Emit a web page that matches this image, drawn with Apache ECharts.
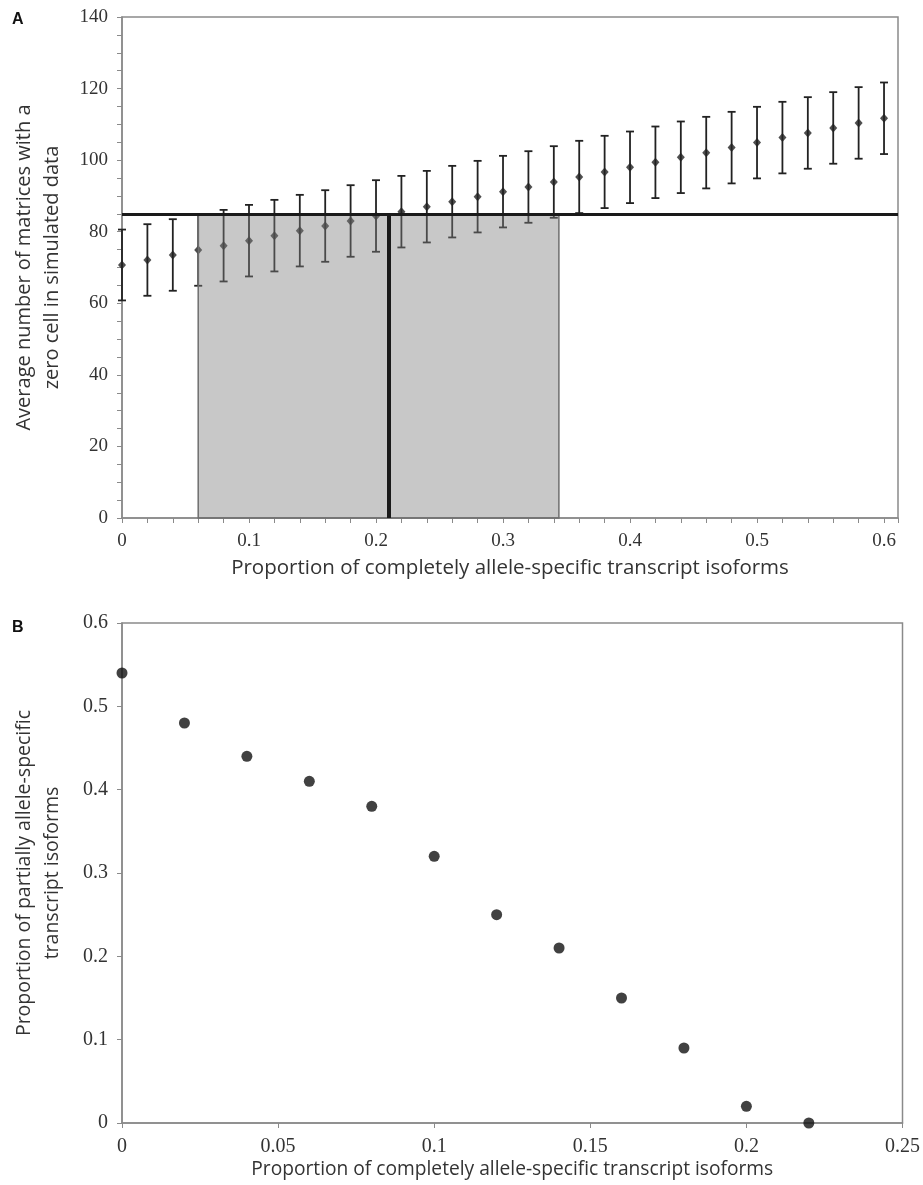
<!DOCTYPE html>
<html>
<head>
<meta charset="utf-8">
<script src="https://cdn.jsdelivr.net/npm/echarts@6/dist/echarts.min.js"></script>
<style>
  html, body { margin: 0; padding: 0; background: #fff; }
  #main { width: 923px; height: 1185px; }
</style>
</head>
<body>
<div id="main"></div>
<script>
// panel A: simulated zero-cell counts
var xA = [0, 0.02, 0.04, 0.06, 0.08, 0.1, 0.12, 0.14, 0.16, 0.18, 0.2, 0.22, 0.24, 0.26, 0.28, 0.3,
  0.32, 0.34, 0.36, 0.38, 0.4, 0.42, 0.44, 0.46, 0.48, 0.5, 0.52, 0.54, 0.56, 0.58, 0.6]
var meanA = [70.7, 72.1, 73.5, 74.9, 76.1, 77.5, 78.9, 80.3, 81.6, 83.0, 84.4, 85.6, 87.0, 88.4, 89.8, 91.2,
  92.5, 93.9, 95.3, 96.7, 98.0, 99.4, 100.8, 102.1, 103.5, 104.9, 106.3, 107.6, 109.0, 110.4, 111.7]
var errA = [9.9, 10.0, 10.0, 10.0, 10.0, 10.0, 10.0, 10.0, 10.0, 10.0, 10.0, 10.0, 10.0, 10.0, 10.0, 10.0,
  10.0, 10.0, 10.1, 10.1, 10.0, 10.0, 10.0, 10.0, 10.0, 10.0, 10.0, 10.0, 10.0, 10.0, 10.0]
var observedY = 85
var estimateX = 0.21
var intervalX = [0.06, 0.344]

// panel B
var xB = [0, 0.02, 0.04, 0.06, 0.08, 0.1, 0.12, 0.14, 0.16, 0.18, 0.2, 0.22]
var yB = [0.54, 0.48, 0.44, 0.41, 0.38, 0.32, 0.25, 0.21, 0.15, 0.09, 0.02, 0]

var xTitle = 'Proportion of completely allele-specific transcript isoforms'

var serif = 'Liberation Serif'
var sans = 'Open Sans'
var ink = '#222'
var axisGray = '#8a8a8a'

var myChart = echarts.init(document.getElementById('main'))

function isMultiple(v, step) {
  var r = v / step
  return Math.abs(r - Math.round(r)) < 1e-6
}

var axisCommon = {
  axisLine: { show: true, lineStyle: { color: axisGray, width: 1.5 } },
  axisTick: { show: true, inside: false, length: 5, lineStyle: { color: axisGray, width: 1 } },
  splitLine: { show: false },
  axisLabel: { fontFamily: serif, fontSize: 19, color: '#333', margin: 14 },
  nameTextStyle: { fontFamily: sans, fontSize: 20.5, color: '#333' }
}

var option = {
  animation: false,
  backgroundColor: '#fff',
  grid: [
    { left: 122, top: 17, right: 25, height: 501, show: true, borderColor: axisGray, borderWidth: 1.5 },
    { left: 122, top: 623, right: 19, height: 500, show: true, borderColor: axisGray, borderWidth: 1.5 }
  ],
  xAxis: [
    echarts.util.merge({
      gridIndex: 0, type: 'value', min: 0, max: 0.611, interval: 0.02,
      name: xTitle, nameLocation: 'middle', nameGap: 40,
      axisLabel: {
        formatter: function (v) { return isMultiple(v, 0.1) && v <= 0.6001 ? String(+v.toFixed(1)) : '' }
      }
    }, axisCommon),
    echarts.util.merge({
      gridIndex: 1, type: 'value', min: 0, max: 0.25, interval: 0.05,
      name: xTitle, nameLocation: 'middle', nameGap: 37,
      axisLabel: { fontSize: 20 },
      nameTextStyle: { fontSize: 19.2 }
    }, axisCommon)
  ],
  yAxis: [
    echarts.util.merge({
      gridIndex: 0, type: 'value', min: 0, max: 140, interval: 5,
      name: 'Average number of matrices with a\nzero cell in simulated data',
      nameLocation: 'middle', nameGap: 56,
      nameTextStyle: { fontSize: 20, lineHeight: 28 },
      axisLabel: {
        formatter: function (v) { return isMultiple(v, 20) ? String(v) : '' }
      }
    }, axisCommon),
    echarts.util.merge({
      gridIndex: 1, type: 'value', min: 0, max: 0.6, interval: 0.1,
      name: 'Proportion of partially allele-specific\ntranscript isoforms',
      nameLocation: 'middle', nameGap: 56,
      nameTextStyle: { fontSize: 19.5, lineHeight: 28 },
      axisLabel: { fontSize: 20 }
    }, axisCommon)
  ],
  graphic: [
    { type: 'text', left: 12, top: 12, style: { text: 'A', font: 'bold 16px "Liberation Sans"', fill: '#111' } },
    { type: 'text', left: 12, top: 620, style: { text: 'B', font: 'bold 16px "Liberation Sans"', fill: '#111' } }
  ],
  series: [
    {
      // error bars
      type: 'custom',
      xAxisIndex: 0, yAxisIndex: 0,
      z: 2,
      silent: true,
      data: xA.map(function (x, i) { return [x, meanA[i] - errA[i], meanA[i] + errA[i]] }),
      renderItem: function (params, api) {
        var top = api.coord([api.value(0), api.value(2)])
        var bot = api.coord([api.value(0), api.value(1)])
        var w = 4
        var st = { stroke: ink, lineWidth: 1.8 }
        return {
          type: 'group',
          children: [
            { type: 'line', shape: { x1: top[0], y1: top[1], x2: bot[0], y2: bot[1] }, style: st },
            { type: 'line', shape: { x1: top[0] - w, y1: top[1], x2: top[0] + w, y2: top[1] }, style: st },
            { type: 'line', shape: { x1: bot[0] - w, y1: bot[1], x2: bot[0] + w, y2: bot[1] }, style: st }
          ]
        }
      }
    },
    {
      type: 'scatter',
      xAxisIndex: 0, yAxisIndex: 0,
      z: 2,
      symbol: 'diamond',
      symbolSize: [8, 9],
      itemStyle: { color: ink },
      data: xA.map(function (x, i) { return [x, meanA[i]] })
    },
    {
      // shaded range
      type: 'custom',
      xAxisIndex: 0, yAxisIndex: 0,
      z: 3,
      silent: true,
      data: [[intervalX[0], intervalX[1], observedY]],
      renderItem: function (params, api) {
        var p0 = api.coord([api.value(0), api.value(2)])
        var p1 = api.coord([api.value(1), 0])
        return {
          type: 'rect',
          shape: { x: p0[0], y: p0[1], width: p1[0] - p0[0], height: p1[1] - p0[1] },
          style: { fill: 'rgba(128,128,128,0.43)', stroke: '#6f6f6f', lineWidth: 1.5 }
        }
      },
      markLine: {
        silent: true,
        symbol: 'none',
        label: { show: false },
        z: 5,
        data: [
          { yAxis: observedY, lineStyle: { color: '#1a1a1a', width: 3, type: 'solid' } },
          [
            { coord: [estimateX, 0], lineStyle: { color: '#1a1a1a', width: 4, type: 'solid' } },
            { coord: [estimateX, observedY] }
          ]
        ]
      }
    },
    {
      type: 'scatter',
      xAxisIndex: 1, yAxisIndex: 1,
      symbol: 'circle',
      symbolSize: 11,
      itemStyle: { color: '#111' },
      data: xB.map(function (x, i) { return [x, yB[i]] })
    }
  ]
}

myChart.setOption(option)
</script>
</body>
</html>
